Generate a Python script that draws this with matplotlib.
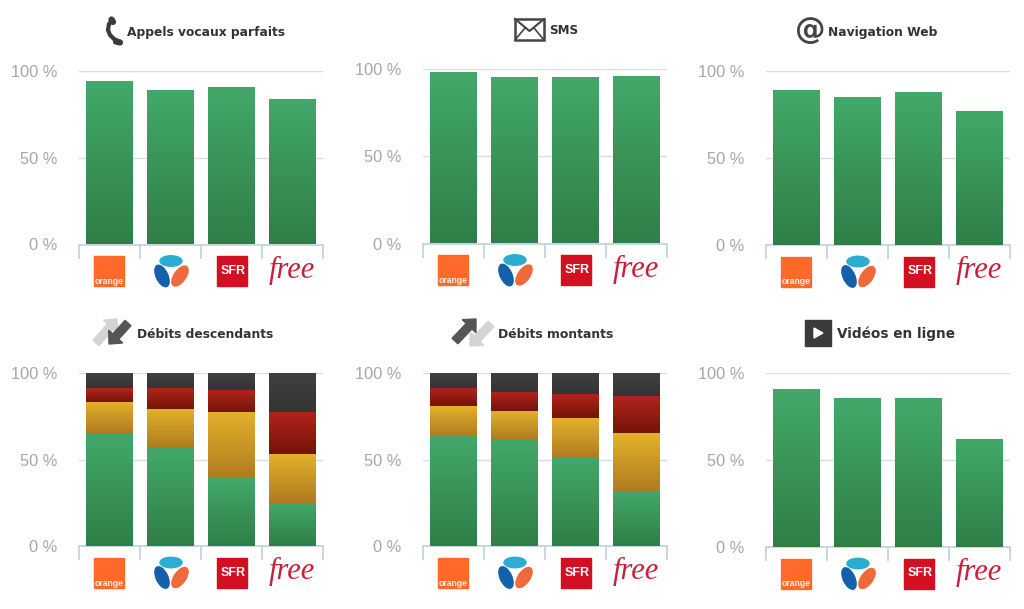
import numpy as np
import matplotlib.pyplot as plt
from matplotlib.colors import LinearSegmentedColormap
from matplotlib.patches import Rectangle, Ellipse, Polygon, FancyArrow

W, H = 1024, 609
plt.rcParams['font.family'] = ['Liberation Sans', 'DejaVu Sans']

ytick_values = [0, 50, 100]
ytick_labels = ['0 %', '50 %', '100 %']

appels = [94.2, 89.0, 90.8, 83.8]
sms = [98.2, 95.4, 95.4, 96.2]
navigation = [88.8, 85.3, 87.8, 76.8]
videos = [90.8, 85.7, 85.7, 62.3]

desc_vert = [65.3, 56.6, 39.3, 24.6]
desc_jaune = [18.2, 22.7, 38.2, 28.6]
desc_rouge = [7.9, 12.1, 12.7, 24.3]
desc_noir = [8.6, 8.6, 9.8, 22.5]

mont_vert = [63.7, 61.2, 50.9, 31.5]
mont_jaune = [17.1, 17.1, 23.1, 33.8]
mont_rouge = [10.6, 10.6, 13.7, 21.5]
mont_noir = [8.6, 11.1, 12.3, 13.2]

green = ('#42A96A', '#2F7E48')
yellow = ('#E4B22C', '#AF7B1F')
red = ('#B2241A', '#741409')
dark = ('#404040', '#343434')

fig = plt.figure(figsize=(W / 100, H / 100), dpi=100)


def add_panel(x0, x1, ytop, ybase, stacks):
    ax = fig.add_axes([x0 / W, 1 - ybase / H, (x1 - x0) / W, (ybase - ytop) / H])
    bottom = np.zeros(4)
    for values, colors in stacks:
        bars = ax.bar(range(4), values, bottom=bottom, width=0.77, color='none', zorder=3)
        cmap = LinearSegmentedColormap.from_list('g', [colors[0], colors[1]])
        for b in bars:
            im = ax.imshow(np.linspace(0, 1, 256).reshape(-1, 1), cmap=cmap, aspect='auto', zorder=3,
                           interpolation='bilinear',
                           extent=(b.get_x(), b.get_x() + b.get_width(), b.get_y(), b.get_y() + b.get_height()))
            im.set_clip_path(b)
        bottom = bottom + np.array(values)
    ax.set_xlim(-0.5, 3.5)
    ax.set_ylim(0, 100)
    ax.set_xticks(np.arange(-0.5, 4))
    ax.set_xticklabels([])
    ax.set_yticks(ytick_values)
    ax.set_yticklabels(ytick_labels, fontsize=11.8, color='#a6a6a6')
    ax.tick_params(axis='y', length=0, pad=15.5)
    ax.tick_params(axis='x', length=10, color='#C0D0E0', width=1.2)
    ax.grid(axis='y', color='#d9dde0', linewidth=1, zorder=0)
    ax.set_axisbelow(True)
    for s in ['top', 'left', 'right']:
        ax.spines[s].set_visible(False)
    ax.spines['bottom'].set_color('#C0D0E0')
    ax.spines['bottom'].set_linewidth(1.2)
    ax.patch.set_visible(False)


panels = [
    (79, 323, 71, 244.5, [(appels, green)]),
    (423, 667, 69, 243.5, [(sms, green)]),
    (766, 1010, 71, 245, [(navigation, green)]),
    (79, 323, 373, 546, [(desc_vert, green), (desc_jaune, yellow), (desc_rouge, red), (desc_noir, dark)]),
    (423, 667, 373, 546, [(mont_vert, green), (mont_jaune, yellow), (mont_rouge, red), (mont_noir, dark)]),
    (766, 1010, 373, 547, [(videos, green)]),
]
for p in panels:
    add_panel(*p)

# overlay in pixel coordinates for the logos and icons
ov = fig.add_axes([0, 0, 1, 1])
ov.set_xlim(0, W)
ov.set_ylim(H, 0)
ov.axis('off')


def logos(x0, ybase):
    c = [x0 + 30, x0 + 92, x0 + 153, x0 + 213]
    y = ybase + 26.5
    ov.add_patch(Rectangle((c[0] - 15, y - 15), 30, 30, color='#FF6A2B'))
    ov.text(c[0], y + 10.5, 'orange', color='white', fontsize=6.2, fontweight='bold', ha='center', va='center',
            alpha=0.9)
    ov.add_patch(Ellipse((c[1], y - 10), 22, 10.5, color='#2BADD2'))
    ov.add_patch(Ellipse((c[1] - 9, y + 5), 11.5, 23, angle=-25, color='#1460AA'))
    ov.add_patch(Ellipse((c[1] + 9, y + 5), 11.5, 23, angle=35, color='#F0693A'))
    ov.add_patch(Rectangle((c[2] - 15, y - 15), 30, 30, color='#D30F22'))
    ov.text(c[2] + 1, y, 'SFR', color='white', fontsize=9, ha='center', va='center', fontweight='bold')
    ov.text(c[3], y - 1, 'free', color='#C9203A', fontsize=22, style='italic', family='Liberation Serif',
            ha='center', va='center')


for x0, x1, ytop, ybase, stacks in panels:
    logos(x0, ybase)

title_color = '#333333'
ov.text(127, 32.5, 'Appels vocaux parfaits', fontsize=8.8, fontweight='bold', color=title_color,
        family='DejaVu Sans', va='center')
ov.text(549, 31, 'SMS', fontsize=8.6, fontweight='bold', color=title_color, family='DejaVu Sans', va='center')
ov.text(828, 32.5, 'Navigation Web', fontsize=8.8, fontweight='bold', color=title_color,
        family='DejaVu Sans', va='center')
ov.text(137, 334, 'Débits descendants', fontsize=8.8, fontweight='bold', color=title_color,
        family='DejaVu Sans', va='center')
ov.text(498, 334, 'Débits montants', fontsize=8.9, fontweight='bold', color=title_color,
        family='DejaVu Sans', va='center')
ov.text(837, 334, 'Vidéos en ligne', fontsize=9.85, fontweight='bold', color=title_color,
        family='DejaVu Sans', va='center')

# phone
ov.plot([112, 109, 108, 110, 114, 120], [20, 24, 30, 35, 39, 42], color='#3a3a3a', lw=3, solid_capstyle='round')
ov.plot([111.5, 113], [19.5, 22], color='#3a3a3a', lw=4.5, solid_capstyle='round')
ov.plot([116, 120], [41.5, 42.5], color='#3a3a3a', lw=4.5, solid_capstyle='round')
# envelope
ov.add_patch(Rectangle((515, 19), 29, 21, fill=False, ec='#444444', lw=1.8))
ov.plot([515, 529.5, 544], [19, 31, 19], color='#444444', lw=1.5)
ov.plot([515, 525], [40, 28], color='#444444', lw=1.2)
ov.plot([544, 534], [40, 28], color='#444444', lw=1.2)
# at sign
ov.text(810, 30, '@', fontsize=22, fontweight='bold', color='#444444', family='DejaVu Sans', ha='center', va='center')


def arrow(x, y, dx, dy, color):
    ov.add_patch(FancyArrow(x, y, dx, dy, width=8, head_width=19, head_length=10,
                            length_includes_head=True, color=color))


arrow(96, 343, 21, -24, '#d4d4d4')
arrow(128, 323, -19, 21, '#555555')
arrow(455, 341, 21, -22, '#555555')
arrow(491, 324, -21, 22, '#d4d4d4')
# play button
ov.add_patch(Rectangle((805, 320), 26, 26, color='#3a3a3a'))
ov.add_patch(Polygon([(814, 328), (814, 338), (823, 333)], color='white'))

fig.savefig('out.png', dpi=100)
